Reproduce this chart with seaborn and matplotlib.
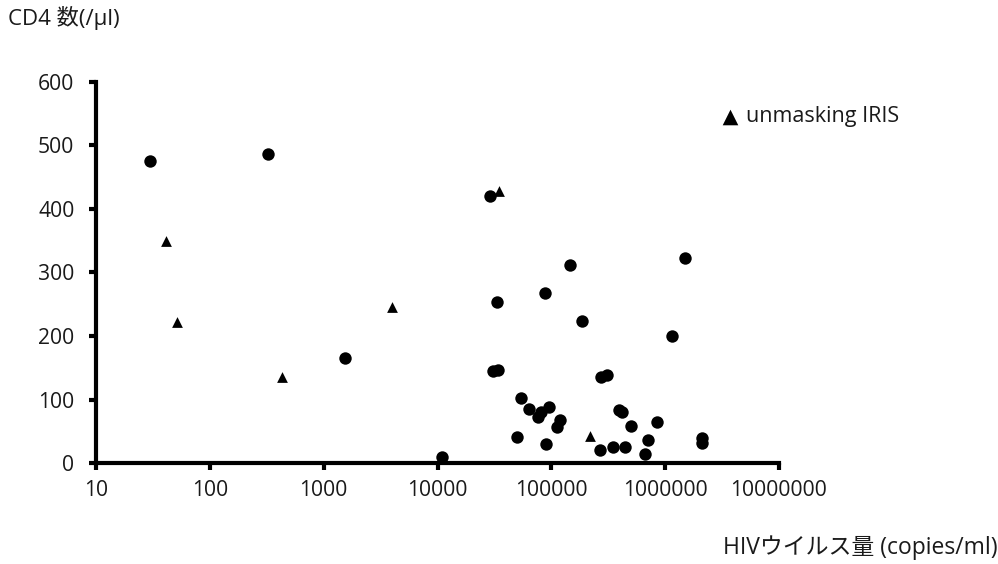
import numpy as np
import pandas as pd
import matplotlib
matplotlib.use('Agg')
import matplotlib.pyplot as plt
import seaborn as sns
from matplotlib.ticker import FixedLocator, FuncFormatter, NullLocator

# ---------- dados ----------
# pacientes sem IRIS (círculos)
carga_circulo = [30, 325, 1550, 11000, 29000, 33000, 30500, 34000, 54000, 63000,
                 50000, 145000, 1500000, 88000, 185000, 1150000, 275000, 310000,
                 95000, 81000, 77000, 120000, 112000, 90000, 270000, 345000,
                 440000, 395000, 420000, 500000, 850000, 710000, 670000,
                 2100000, 2100000]
cd4_circulo = [475, 487, 166, 10, 420, 253, 145, 147, 102, 85,
               41, 312, 322, 268, 224, 200, 135, 138,
               88, 80, 72, 68, 57, 30, 20, 26,
               26, 83, 80, 59, 64, 36, 15,
               39, 31]

# unmasking IRIS (triângulos)
carga_triangulo = [41, 51, 433, 4000, 35000, 220000]
cd4_triangulo = [350, 222, 136, 245, 428, 42]

x_ticks = [10, 100, 1000, 10000, 100000, 1000000, 10000000]
y_ticks = [0, 100, 200, 300, 400, 500, 600]

rotulo_legenda = 'unmasking IRIS'
rotulo_x = 'HIVウイルス量 (copies/ml)'
rotulo_y = 'CD4 数(/µl)'

df_circ = pd.DataFrame({'carga': carga_circulo, 'cd4': cd4_circulo})
df_tri = pd.DataFrame({'carga': carga_triangulo, 'cd4': cd4_triangulo})

# ---------- estilo ----------
sns.set_style('white')
plt.rcParams['font.family'] = ['Open Sans', 'Noto Sans CJK JP', 'DejaVu Sans']

fig = plt.figure(figsize=(9.98, 5.64), dpi=100)
ax = fig.add_axes([0.0962, 0.179, 0.6844, 0.676])

sns.scatterplot(data=df_circ, x='carga', y='cd4', ax=ax, marker='o', s=80,
                color='black', edgecolor='black', linewidth=0)
sns.scatterplot(data=df_tri, x='carga', y='cd4', ax=ax, marker='^', s=60,
                color='black', edgecolor='black', linewidth=0, label=rotulo_legenda)

ax.set_xscale('log')
ax.set_xlim(10, 10000000)
ax.set_ylim(0, 600)
ax.xaxis.set_major_locator(FixedLocator(x_ticks))
ax.xaxis.set_minor_locator(NullLocator())
ax.xaxis.set_major_formatter(FuncFormatter(lambda v, p: f'{int(round(v))}'))
ax.yaxis.set_major_locator(FixedLocator(y_ticks))

for lado in ['top', 'right']:
    ax.spines[lado].set_visible(False)
for lado in ['left', 'bottom']:
    ax.spines[lado].set_linewidth(3)
    ax.spines[lado].set_color('black')
ax.tick_params(axis='both', which='major', direction='out', length=5, width=3,
               color='black', labelsize=15.2, labelcolor='#1a1a1a',
               bottom=True, left=True)
ax.tick_params(axis='x', pad=7.5)
ax.tick_params(axis='y', pad=10.5)
ax.set_xlabel('')
ax.set_ylabel('')

leg = ax.legend(loc='center left', bbox_to_anchor=(719 / 998, 1 - 117 / 564),
                bbox_transform=fig.transFigure, frameon=False, fontsize=15.5,
                handletextpad=0.25, handlelength=1.0, borderaxespad=0, borderpad=0,
                markerscale=1.45)
for t in leg.get_texts():
    t.set_color('#1a1a1a')

fig.text(8 / 998, 1 - 18 / 564, rotulo_y, ha='left', va='center', fontsize=16,
         color='#1a1a1a')
fig.text(998 / 998, 1 - 548 / 564, rotulo_x, ha='right', va='center', fontsize=16.5,
         color='#1a1a1a')

fig.savefig('out.png', dpi=100)
plt.close(fig)
